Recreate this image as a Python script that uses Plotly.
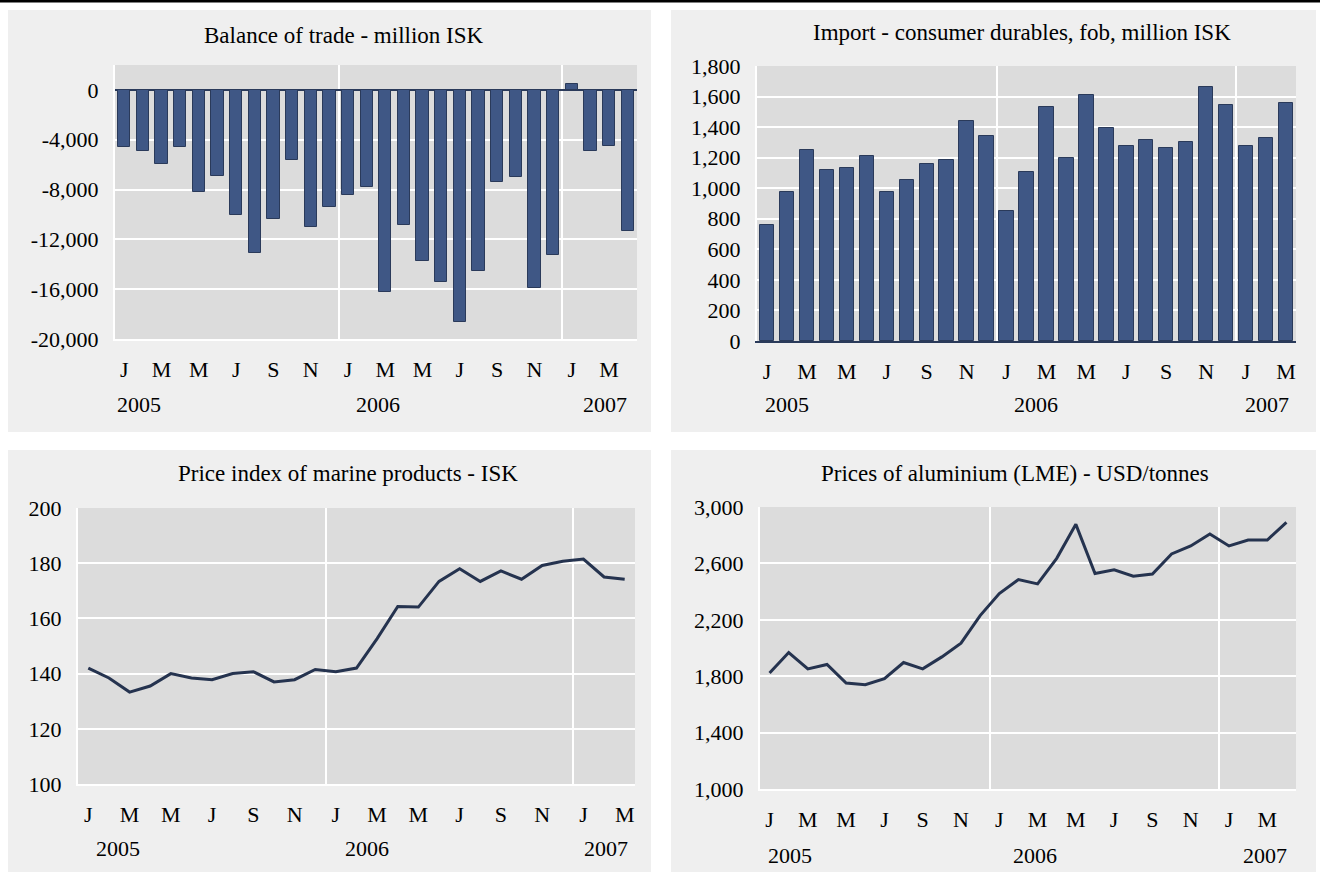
import plotly.graph_objects as go

W, H = 1320, 872

# ---------------- data ----------------
month_letters = ["J", "M", "M", "J", "S", "N"]

trade_balance = [-4620, -4940, -5910, -4620, -8170, -6880, -10050, -13090, -10370, -5590, -11020, -9410,
                 -8470, -7800, -16240, -10840, -13700, -15450, -18650, -14510, -7360, -7010, -15940, -13220,
                 480, -4940, -4480, -11300]
import_durables = [760, 977, 1249, 1119, 1132, 1210, 977, 1053, 1158, 1184, 1439, 1341,
                   851, 1106, 1530, 1197, 1608, 1393, 1275, 1315, 1262, 1302, 1661, 1543,
                   1275, 1328, 1556]
marine_index = [142.0, 138.4, 133.3, 135.5, 140.0, 138.4, 137.8, 140.0, 140.7, 137.0, 137.8, 141.5,
                140.7, 142.0, 152.7, 164.3, 164.1, 173.4, 178.0, 173.4, 177.2, 174.2, 179.2, 180.7,
                181.5, 175.0, 174.2]
aluminium = [1822, 1968, 1852, 1883, 1751, 1739, 1782, 1897, 1852, 1937, 2034, 2230,
             2386, 2485, 2455, 2636, 2877, 2528, 2554, 2509, 2525, 2667, 2724, 2809,
             2724, 2766, 2766, 2891]

titles = ["Balance of trade - million ISK",
          "Import - consumer durables, fob, million ISK",
          "Price index of marine products - ISK",
          "Prices of aluminium (LME) - USD/tonnes"]
years = ["2005", "2006", "2007"]

y1_ticks = [-20000, -16000, -12000, -8000, -4000, 0]
y2_ticks = [0, 200, 400, 600, 800, 1000, 1200, 1400, 1600, 1800]
y3_ticks = [100, 120, 140, 160, 180, 200]
y4_ticks = [1000, 1400, 1800, 2200, 2600, 3000]


def fmt(v):
    s = f"{abs(v):,}"
    return ("-" + s) if v < 0 else s


# ---------------- styling ----------------
FONT = "Liberation Serif"
BAR = "#3f5785"
BAR_EDGE = "#2a3a5a"
LINE = "#25334f"
PANEL = "#efefef"
PLOTBG = "#dcdcdc"
TICK_SIZE = 22
TITLE_SIZE = 23

# pixel geometry: (plot x0, x1, y0, y1), panel bg (x0, x1, y0, y1)
plots = [(115, 637, 65, 339), (757, 1296, 66, 341), (78, 635, 508, 784), (760, 1296, 507, 789)]
panels = [(8, 651, 10, 432), (671, 1316, 10, 432), (8, 651, 450, 872), (671, 1316, 450, 872)]
title_pos = [(344, 35), (1022, 33), (348, 473), (1015, 473)]
year_rows = [405, 405, 848, 855]
year_x = [[0.8, 13.6, 25.8], [1.0, 13.5, 25.05], [1.45, 13.5, 25.1], [1.05, 13.85, 25.9]]


def xd(a, b):
    return [a / W, b / W]


def yd(a, b):
    return [1 - b / H, 1 - a / H]


fig = go.Figure()

series = [trade_balance, import_durables, marine_index, aluminium]
kinds = ["bar", "bar", "line", "line"]
widths = [0.66, 0.72, None, None]

for i, (vals, kind) in enumerate(zip(series, kinds)):
    idx = list(range(len(vals)))
    ax = "" if i == 0 else str(i + 1)
    if kind == "bar":
        fig.add_trace(go.Bar(x=idx, y=vals, width=widths[i], marker=dict(color=BAR, line=dict(color=BAR_EDGE, width=1)),
                             xaxis="x" + ax, yaxis="y" + ax, showlegend=False))
    else:
        fig.add_trace(go.Scatter(x=idx, y=vals, mode="lines", line=dict(color=LINE, width=3),
                                 xaxis="x" + ax, yaxis="y" + ax, showlegend=False))

ytick_sets = [y1_ticks, y2_ticks, y3_ticks, y4_ticks]
yranges = [[-20000, 2000], [0, 1800], [100, 200], [1000, 3000]]

layout = dict(width=W, height=H, margin=dict(l=0, r=0, t=0, b=0, pad=0, autoexpand=False),
              autosize=False,
              paper_bgcolor="white", plot_bgcolor="rgba(0,0,0,0)",
              font=dict(family=FONT, color="black", size=TICK_SIZE),
              bargap=0, showlegend=False)

shapes = [dict(type="rect", xref="paper", yref="paper", x0=0, x1=1, y0=1 - 2.5 / H, y1=1,
               fillcolor="black", line=dict(width=0), layer="above")]
annotations = []

for i in range(4):
    n = len(series[i])
    ax = "" if i == 0 else str(i + 1)
    px0, px1, py0, py1 = plots[i]
    tickvals = list(range(0, n, 2))
    ticktext = [month_letters[(v % 12) // 2] for v in tickvals]
    bounds = [b - 0.5 for b in range(12, n, 12)]
    bottom_dark = (i == 1)
    layout["xaxis" + ax] = dict(
        domain=xd(px0, px1), anchor="y" + ax, range=[-0.5, n - 0.5], automargin=False,
        tickmode="array", tickvals=tickvals, ticktext=ticktext,
        showgrid=False, zeroline=False,
        ticks="outside", ticklen=10, tickcolor="rgba(0,0,0,0)",
        showline=True, linecolor=(BAR_EDGE if bottom_dark else "white"), linewidth=(1.5 if bottom_dark else 2),
        minor=dict(tickmode="array", tickvals=bounds, showgrid=True, gridcolor="white", gridwidth=2, ticks=""),
        tickfont=dict(family=FONT, size=TICK_SIZE, color="black"), fixedrange=True,
    )
    layout["yaxis" + ax] = dict(
        domain=yd(py0, py1), anchor="x" + ax, range=yranges[i], automargin=False,
        tickmode="array", tickvals=ytick_sets[i], ticktext=[fmt(v) for v in ytick_sets[i]],
        showgrid=True, gridcolor="white", gridwidth=2,
        zeroline=(i == 0), zerolinecolor=BAR_EDGE, zerolinewidth=1.5,
        showline=True, linecolor="white", linewidth=2,
        ticks="outside", ticklen=10, tickcolor="rgba(0,0,0,0)",
        tickfont=dict(family=FONT, size=TICK_SIZE, color="black"), fixedrange=True,
    )
    bx0, bx1, by0, by1 = panels[i]
    shapes.append(dict(type="rect", xref="paper", yref="paper", x0=bx0 / W, x1=bx1 / W,
                       y0=1 - by1 / H, y1=1 - by0 / H, fillcolor=PANEL, line=dict(width=0), layer="below"))
    shapes.append(dict(type="rect", xref="x" + ax + " domain", yref="y" + ax + " domain", x0=0, x1=1, y0=0, y1=1,
                       fillcolor=PLOTBG, line=dict(width=0), layer="below"))
    tx, ty = title_pos[i]
    annotations.append(dict(text=titles[i], xref="paper", yref="paper", x=tx / W, y=1 - ty / H,
                            xanchor="center", yanchor="middle", showarrow=False,
                            font=dict(family=FONT, size=TITLE_SIZE, color="black")))
    for yr, xv in zip(years, year_x[i]):
        annotations.append(dict(text=yr, xref="x" + ax, yref="paper", x=xv, y=1 - year_rows[i] / H,
                                xanchor="center", yanchor="middle", showarrow=False,
                                font=dict(family=FONT, size=TICK_SIZE, color="black")))

layout["shapes"] = shapes
layout["annotations"] = annotations
fig.update_layout(**layout)
fig.write_html("out.html", config={"displayModeBar": False},
               post_script="document.body.style.margin='0';document.body.style.overflow='hidden';")
